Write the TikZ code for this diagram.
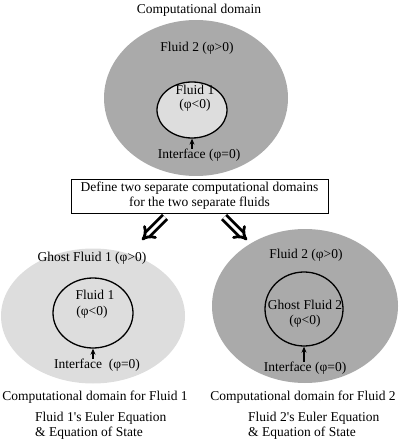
\documentclass[tikz,border=0pt]{standalone}
\usepackage{fontspec}
\setmainfont{Liberation Serif}
\usetikzlibrary{shapes.geometric,arrows.meta}
\definecolor{darkfill}{HTML}{AAAAAA}
\definecolor{lightfill}{HTML}{DDDDDD}
\begin{document}
\begin{tikzpicture}[x=1pt,y=-1pt,
  every node/.style={font=\fontsize{13.5}{15}\selectfont, inner sep=0pt},
  regionfill/.style={ellipse, draw=none},
  iface/.style={ellipse, draw=black, line width=1.3pt},
  txt/.style={anchor=center},
  ptr/.style={-{Stealth[length=6pt,width=5pt]}, line width=1.2pt},
  splitarrow/.style={line width=2.8pt, double distance=3pt, -{Implies[scale=1.35]}}]
\useasboundingbox (0,0) rectangle (400,443);
% top
\node[txt] (title) at (199,10) {Computational domain};
\node[regionfill, fill=darkfill, minimum width=184pt, minimum height=156pt] (outerA) at (196,98) {};
\node[iface, fill=lightfill, minimum width=70pt, minimum height=56pt] (innerA) at (192,110) {};
\node[txt] (f2A) at (197,48) {Fluid 2 (φ>0)};
\node[txt] (f1A) at (195,90) {Fluid 1};
\node[txt] (p1A) at (195,105) {(φ<0)};
\node[txt] (ifA) at (199,155) {Interface (φ=0)};
\draw[ptr] (ifA.north -| innerA.south) -- (innerA.south);
% box
\node[draw, line width=0.6pt, minimum width=257pt, minimum height=34pt, align=center] (box) at (199.5,196)
  {Define two separate computational domains\\for the two separate fluids};
\coordinate (la) at (165,217);
\coordinate (lb) at (142,240);
\coordinate (ra) at (224,217);
\coordinate (rb) at (247,240);
\draw[splitarrow] (la) -- (lb);
\draw[splitarrow] (ra) -- (rb);
% bottom left
\node[regionfill, fill=lightfill, minimum width=184pt, minimum height=135pt] (outerB) at (93,316) {};
\node[iface, minimum width=80pt, minimum height=70pt] (innerB) at (93,313) {};
\node[txt] (gB) at (92,258) {Ghost Fluid 1 (φ>0)};
\node[txt] (f1B) at (95,295) {Fluid 1};
\node[txt] (p1B) at (92,312) {(φ<0)};
\node[txt] (ifB) at (97,365) {Interface\ \ (φ=0)};
\draw[ptr] (ifB.north -| innerB.south) -- (innerB.south);
\node[txt] (cB) at (95,397) {Computational domain for Fluid 1};
\node[anchor=west, align=left] (eB) at (35,425.5) {Fluid 1\textquotesingle s Euler Equation\\\& Equation of State};
% bottom right
\node[regionfill, fill=darkfill, minimum width=186pt, minimum height=154pt] (outerC) at (305,306) {};
\node[iface, minimum width=78pt, minimum height=74pt] (innerC) at (304,309) {};
\node[txt] (f2C) at (306,255) {Fluid 2 (φ>0)};
\node[txt] (gC) at (305,305) {Ghost Fluid 2};
\node[txt] (p1C) at (305,321) {(φ<0)};
\node[txt] (ifC) at (305,368) {Interface (φ=0)};
\draw[ptr] (ifC.north -| innerC.south) -- (innerC.south);
\node[txt] (cC) at (303,397) {Computational domain for Fluid 2};
\node[anchor=west, align=left] (eC) at (248,425.5) {Fluid 2\textquotesingle s Euler Equation\\\& Equation of State};
\end{tikzpicture}
\end{document}
